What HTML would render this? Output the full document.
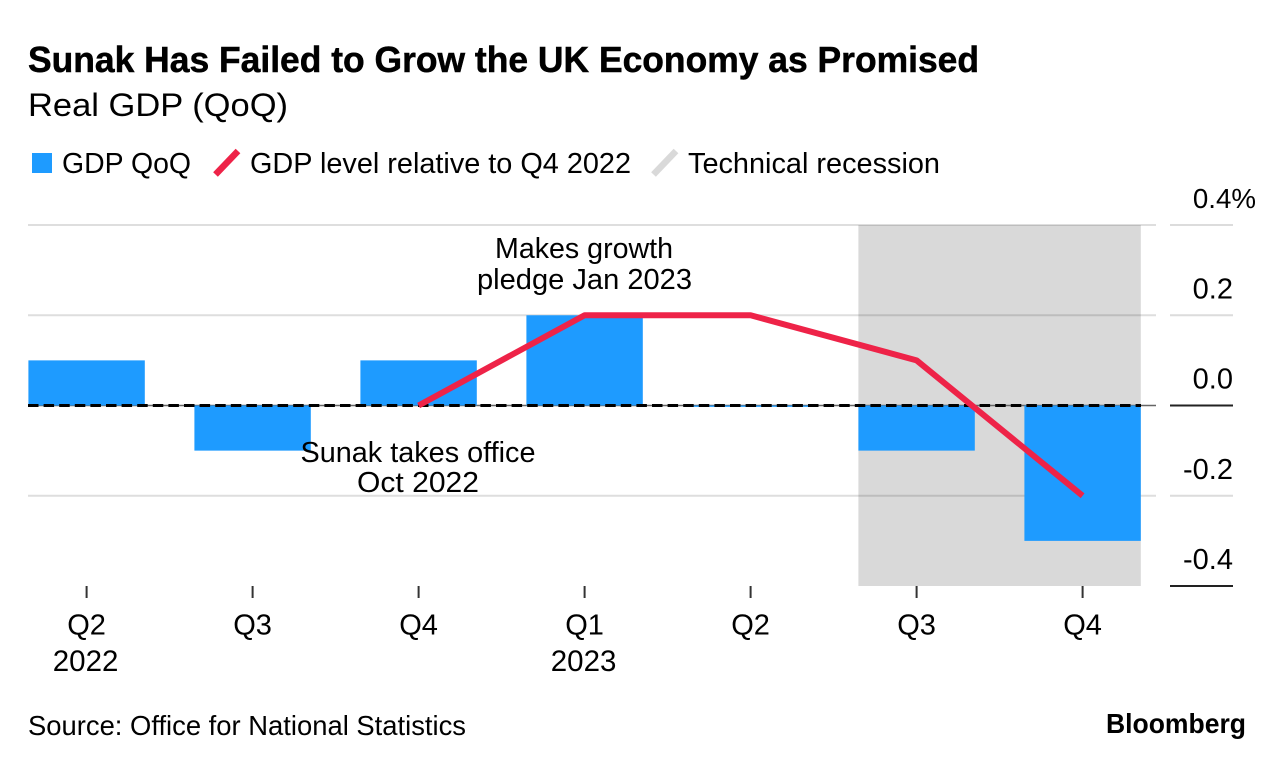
<!DOCTYPE html>
<html lang="en">
<head>
<meta charset="utf-8">
<title>Sunak Has Failed to Grow the UK Economy as Promised</title>
<style>
html,body{margin:0;padding:0;background:#fff;width:1285px;height:768px;overflow:hidden}
svg{display:block;position:absolute;left:0;top:0}
text{font-family:"Liberation Sans",sans-serif;fill:#000}
</style>
</head>
<body>
<svg id="chart" width="1285" height="768" viewBox="0 0 1285 768" xmlns="http://www.w3.org/2000/svg">
  <text x="28" y="72" font-size="36" font-weight="700" stroke="#000" stroke-width="0.5" textLength="951" lengthAdjust="spacingAndGlyphs">Sunak Has Failed to Grow the UK Economy as Promised</text>
  <text x="28" y="116" font-size="32" textLength="260" lengthAdjust="spacingAndGlyphs">Real GDP (QoQ)</text>

  <rect x="32" y="153" width="20" height="20" fill="#1e9bff"/>
  <text x="62" y="173" font-size="29" textLength="129" lengthAdjust="spacingAndGlyphs">GDP QoQ</text>
  <line x1="215.500" y1="174.500" x2="238" y2="151" stroke="#ee2348" stroke-width="6.5"/>
  <text x="250" y="173" font-size="29" textLength="381" lengthAdjust="spacingAndGlyphs">GDP level relative to Q4 2022</text>
  <line x1="653.500" y1="174.500" x2="676" y2="151" stroke="#d9d9d9" stroke-width="6.5"/>
  <text x="688" y="173" font-size="29" textLength="252" lengthAdjust="spacingAndGlyphs">Technical recession</text>

  <g id="plot"></g>

  <text x="584" y="258" font-size="29" text-anchor="middle" textLength="178" lengthAdjust="spacingAndGlyphs">Makes growth</text>
  <text x="584.500" y="289" font-size="29" text-anchor="middle" textLength="215" lengthAdjust="spacingAndGlyphs">pledge Jan 2023</text>
  <text x="418" y="462" font-size="29" text-anchor="middle" textLength="235" lengthAdjust="spacingAndGlyphs">Sunak takes office</text>
  <text x="418" y="492" font-size="29" text-anchor="middle" textLength="122" lengthAdjust="spacingAndGlyphs">Oct 2022</text>

  <text x="28" y="735" font-size="27.500" textLength="438" lengthAdjust="spacingAndGlyphs">Source: Office for National Statistics</text>
  <text x="1106" y="733" font-size="28" font-weight="700" textLength="140" lengthAdjust="spacingAndGlyphs">Bloomberg</text>
</svg>
<script>
const categories = ['Q2', 'Q3', 'Q4', 'Q1', 'Q2', 'Q3', 'Q4'];
const yearLabels = ['2022', '', '', '2023', '', '', ''];
const gdpQoq = [0.1, -0.1, 0.1, 0.2, -0.003, -0.1, -0.3];
const gdpLevel = [null, null, 0, 0.2, 0.2, 0.1, -0.2];
const yTicks = [0.4, 0.2, 0, -0.2, -0.4];
const yTickLabels = ['0.4%', '0.2', '0.0', '-0.2', '-0.4'];
const recessionCategories = [5, 6];

const SVG_NS = 'http://www.w3.org/2000/svg';
const plot = document.getElementById('plot');
const plotLeft = 28, plotRight = 1141, axisLeft = 1170, axisRight = 1233;
const firstX = 86.6, stepX = 166, barWidth = 116.4;
const yTop = 225, yBottom = 586, yMax = 0.4, yMin = -0.4;

function xScale(i) { return firstX + i * stepX; }
function yScale(v) { return yTop + (yMax - v) / (yMax - yMin) * (yBottom - yTop); }
function make(tag, attrs, text) {
  const el = document.createElementNS(SVG_NS, tag);
  Object.keys(attrs).forEach(function (k) { el.setAttribute(k, attrs[k]); });
  if (text !== undefined) el.textContent = text;
  plot.appendChild(el);
  return el;
}

// recession band
const bandStart = xScale(recessionCategories[0]) - barWidth / 2;
const bandEnd = xScale(recessionCategories[1]) + barWidth / 2;
const band = make('rect', { x: bandStart, y: yTop, width: bandEnd - bandStart, height: yBottom - yTop, fill: '#d9d9d9' });



// gridlines, right-axis segments and tick labels
yTicks.forEach(function (t, i) {
  const y = yScale(t);
  const strong = t === 0;
  if (t !== yMin) {
    const grid = make('line', { x1: plotLeft, x2: 1156, y1: y, y2: y, stroke: strong ? '#666' : '#000', 'stroke-opacity': strong ? 1 : 0.13, 'stroke-width': strong ? 1.6 : 2 });
    
    
  }
  const seg = make('line', { x1: axisLeft, x2: axisRight, y1: y, y2: y, stroke: (strong || t === yMin) ? '#222' : '#dcdcdc', 'stroke-width': 2 });
  
  
  const label = make('text', { x: t === yMax ? 1256 : 1233, y: y - 17, 'font-size': t === yMax ? 27.7 : 29, 'text-anchor': 'end' }, yTickLabels[i]);
  
  
});

// bars
gdpQoq.forEach(function (v, i) {
  const y0 = yScale(0), y1 = yScale(v);
  const bar = make('rect', { x: xScale(i) - barWidth / 2, y: Math.min(y0, y1), width: barWidth, height: Math.abs(y1 - y0), fill: '#1e9bff' });
  
  
});

// dashed zero reference
const zero = make('line', { x1: plotLeft, x2: plotRight, y1: yScale(0), y2: yScale(0), stroke: '#000', 'stroke-width': 3, 'stroke-dasharray': '10.500 5.100' });



// GDP level line
const linePoints = [];
gdpLevel.forEach(function (v, i) {
  if (v !== null) linePoints.push(xScale(i) + ',' + yScale(v));
});
const line = make('polyline', { points: linePoints.join(' '), fill: 'none', stroke: '#ee2348', 'stroke-width': 6, 'stroke-linejoin': 'round' });



// x-axis ticks and labels
categories.forEach(function (c, i) {
  const x = xScale(i);
  const tick = make('line', { x1: x, x2: x, y1: 586, y2: 598, stroke: '#333', 'stroke-width': 2 });
  
  
  const label = make('text', { x: x, y: 634.5, 'font-size': 29, 'text-anchor': 'middle' }, c);
  
  
  if (yearLabels[i]) {
    const year = make('text', { x: x - 1, y: 671, 'font-size': 29.5, 'text-anchor': 'middle' }, yearLabels[i]);
    
    
  }
});
</script>
</body>
</html>
